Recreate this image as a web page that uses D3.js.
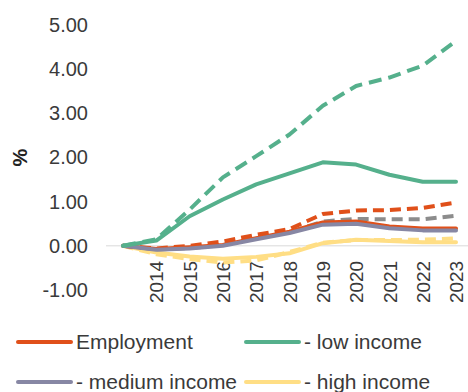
<!DOCTYPE html>
<html>
<head>
<meta charset="utf-8">
<script src="https://cdn.jsdelivr.net/npm/d3@7"></script>
<style>
  html, body { margin: 0; padding: 0; background: #fff; }
  svg { display: block; font-family: "Liberation Sans", Arial, sans-serif; }
</style>
</head>
<body>
<svg id="chart" width="468" height="392"></svg>
<script>
// Years on the x axis (first year is the base, left unlabelled)
const years = [2013, 2014, 2015, 2016, 2017, 2018, 2019, 2020, 2021, 2022, 2023];
const yearLabels = ["", "2014", "2015", "2016", "2017", "2018", "2019", "2020", "2021", "2022", "2023"];
const yTicks = [-1, 0, 1, 2, 3, 4, 5];

// Observed series (solid lines), % change from base year
const employment   = [0, -0.07, -0.03, 0.02, 0.17, 0.32, 0.53, 0.55, 0.44, 0.39, 0.39];
const lowIncome    = [0, 0.12, 0.67, 1.05, 1.39, 1.64, 1.89, 1.84, 1.61, 1.45, 1.45];
const mediumIncome = [0, -0.09, -0.06, 0.00, 0.15, 0.29, 0.48, 0.50, 0.40, 0.35, 0.35];
const highIncome   = [0, -0.15, -0.24, -0.29, -0.25, -0.17, 0.06, 0.14, 0.11, 0.08, 0.08];

// Alternative series (dashed lines)
const employmentAlt   = [0, -0.06, 0.00, 0.10, 0.25, 0.38, 0.72, 0.80, 0.81, 0.86, 0.98];
const lowIncomeAlt    = [0, 0.15, 0.82, 1.55, 2.03, 2.52, 3.17, 3.62, 3.81, 4.08, 4.64];
const mediumIncomeAlt = [0, -0.08, -0.05, 0.02, 0.17, 0.31, 0.55, 0.61, 0.60, 0.60, 0.68];
const highIncomeAlt   = [0, -0.19, -0.30, -0.38, -0.33, -0.14, 0.07, 0.13, 0.13, 0.14, 0.17];

const legendNames = ["Employment", "- low income", "- medium income", "- high income"];

const colors = {
  employment: "#E0501A",
  low: "#55B08C",
  medium: "#8787A4",
  high: "#FFDE85",
  grey: "#8C8C8C"
};

const svg = d3.select("#chart");

const x = d3.scalePoint().domain(years).range([123, 456]);
const y = d3.scaleLinear().domain([-1, 5]).range([290, 25]);

// y-axis tick labels
const yAxis = d3.axisLeft(y).tickValues(yTicks).tickFormat(d => d.toFixed(2)).tickSize(0).tickPadding(0);
const gy = svg.append("g").attr("transform", "translate(88,0)").call(yAxis);
gy.select(".domain").remove();
gy.selectAll("text")
  .attr("font-size", 20)
  .attr("fill", "#3a3a3a")
  .attr("font-family", "Liberation Sans, Arial, sans-serif");

// axis title
svg.append("text")
  .attr("transform", `translate(27,${y(2)}) rotate(-90)`)
  .attr("text-anchor", "middle")
  .attr("font-size", 20)
  .attr("font-weight", "bold")
  .attr("fill", "#222")
  .text("%");

// zero baseline
svg.append("line")
  .attr("x1", 106).attr("x2", 468)
  .attr("y1", y(0)).attr("y2", y(0))
  .attr("stroke", "#d9d9d9").attr("stroke-width", 1);

// x-axis labels, rotated
const xAxis = d3.axisBottom(x).tickFormat((d, i) => yearLabels[i]).tickSize(0).tickPadding(0);
const gx = svg.append("g").attr("transform", `translate(0,${y(0) + 15})`).call(xAxis);
gx.select(".domain").remove();
gx.selectAll("text")
  .attr("font-size", 19)
  .attr("fill", "#3a3a3a")
  .attr("font-family", "Liberation Sans, Arial, sans-serif")
  .attr("text-anchor", "end")
  .attr("dy", "0.35em")
  .attr("dx", 0)
  .attr("y", 0)
  .attr("transform", "rotate(-90)");

const line = d3.line()
  .x((d, i) => x(years[i]))
  .y(d => y(d));

const series = [
  { values: highIncomeAlt,   color: colors.high,       dash: "11,6" },
  { values: highIncome,      color: colors.high,       dash: null },
  { values: mediumIncomeAlt, color: colors.grey,       dash: "11,6" },
  { values: employmentAlt,   color: colors.employment, dash: "11,6" },
  { values: employment,      color: colors.employment, dash: null },
  { values: mediumIncome,    color: colors.medium,     dash: null },
  { values: lowIncomeAlt,    color: colors.low,        dash: "13,7" },
  { values: lowIncome,       color: colors.low,        dash: null }
];

svg.append("g").selectAll("path")
  .data(series)
  .join("path")
  .attr("d", d => line(d.values))
  .attr("fill", "none")
  .attr("stroke", d => d.color)
  .attr("stroke-width", 4)
  .attr("stroke-linejoin", "round")
  .attr("stroke-linecap", d => d.dash ? "butt" : "round")
  .attr("stroke-dasharray", d => d.dash);

// legend
const legendItems = [
  { name: legendNames[0], color: colors.employment, lx: 18,  ly: 342 },
  { name: legendNames[1], color: colors.low,        lx: 246, ly: 342 },
  { name: legendNames[2], color: colors.medium,     lx: 18,  ly: 382 },
  { name: legendNames[3], color: colors.high,       lx: 246, ly: 382 }
];
const lg = svg.append("g").selectAll("g").data(legendItems).join("g")
  .attr("transform", d => `translate(${d.lx},${d.ly})`);
lg.append("line")
  .attr("x1", 0).attr("x2", 53)
  .attr("y1", 0).attr("y2", 0)
  .attr("stroke", d => d.color)
  .attr("stroke-width", 4)
  .attr("stroke-linecap", "round");
lg.append("text")
  .attr("x", 58)
  .attr("dy", "0.35em")
  .attr("font-size", 21)
  .attr("fill", "#3a3a3a")
  .text(d => d.name);
</script>
</body>
</html>
